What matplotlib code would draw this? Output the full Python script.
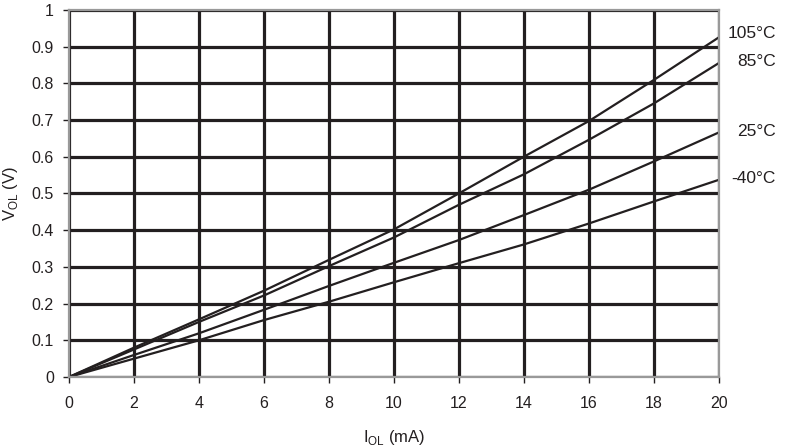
import numpy as np
import matplotlib
matplotlib.use("Agg")
import matplotlib.pyplot as plt
import matplotlib.transforms as mtransforms

plt.rcParams['font.family'] = ['Liberation Sans', 'DejaVu Sans']

# output low current (mA)
i_ol = [0, 2, 4, 6, 8, 10, 12, 14, 16, 18, 20]

# output low voltage (V) for each temperature
v_105 = [0, 0.080, 0.157, 0.235, 0.319, 0.402, 0.500, 0.600, 0.697, 0.809, 0.925]
v_85 = [0, 0.075, 0.150, 0.222, 0.302, 0.380, 0.469, 0.552, 0.646, 0.745, 0.855]
v_25 = [0, 0.060, 0.119, 0.183, 0.248, 0.311, 0.373, 0.441, 0.510, 0.587, 0.666]
v_m40 = [0, 0.050, 0.100, 0.155, 0.205, 0.258, 0.310, 0.361, 0.418, 0.478, 0.537]

labels = ['105°C', '85°C', '25°C', '-40°C']
label_y = [0.935, 0.86, 0.67, 0.54]

ink = '#231f20'
frame = '#999999'

fig = plt.figure(figsize=(7.89, 4.48), dpi=100)
ax = fig.add_axes([0.0875, 0.1585, 0.8235, 0.8195])

ax.set_xlim(0, 20)
ax.set_ylim(0, 1)
ax.set_xticks(np.arange(0, 21, 2))
ax.set_yticks(np.arange(0, 1.01, 0.1))
ax.set_yticklabels(['0', '0.1', '0.2', '0.3', '0.4', '0.5', '0.6', '0.7', '0.8', '0.9', '1'])
ax.grid(True, color=ink, linewidth=2.3, zorder=1)

for v in [v_105, v_85, v_25, v_m40]:
    ax.plot(i_ol, v, color=ink, linewidth=1.6, zorder=3)

for s in ax.spines.values():
    s.set_color(frame)
    s.set_linewidth(1.6)
    s.set_zorder(4)

ax.tick_params(direction='out', length=4, width=1, color=ink, labelsize=11.5, labelcolor=ink)
ax.tick_params(axis='x', pad=10)
ax.tick_params(axis='y', pad=7)

# right-side temperature labels: x in axes coords, y on the data scale
trans = mtransforms.blended_transform_factory(ax.transAxes, ax.transData)
for lab, y in zip(labels, label_y):
    ax.text(1.088, y, lab, transform=trans, ha='right', va='center',
            fontsize=12.5, color=ink)

ax.set_xlabel('I$_{\\mathregular{OL}}$ (mA)', fontsize=12, color=ink, labelpad=12)
ax.set_ylabel('V$_{\\mathregular{OL}}$ (V)', fontsize=12, color=ink, labelpad=8)

fig.savefig('out.png', dpi=100)
